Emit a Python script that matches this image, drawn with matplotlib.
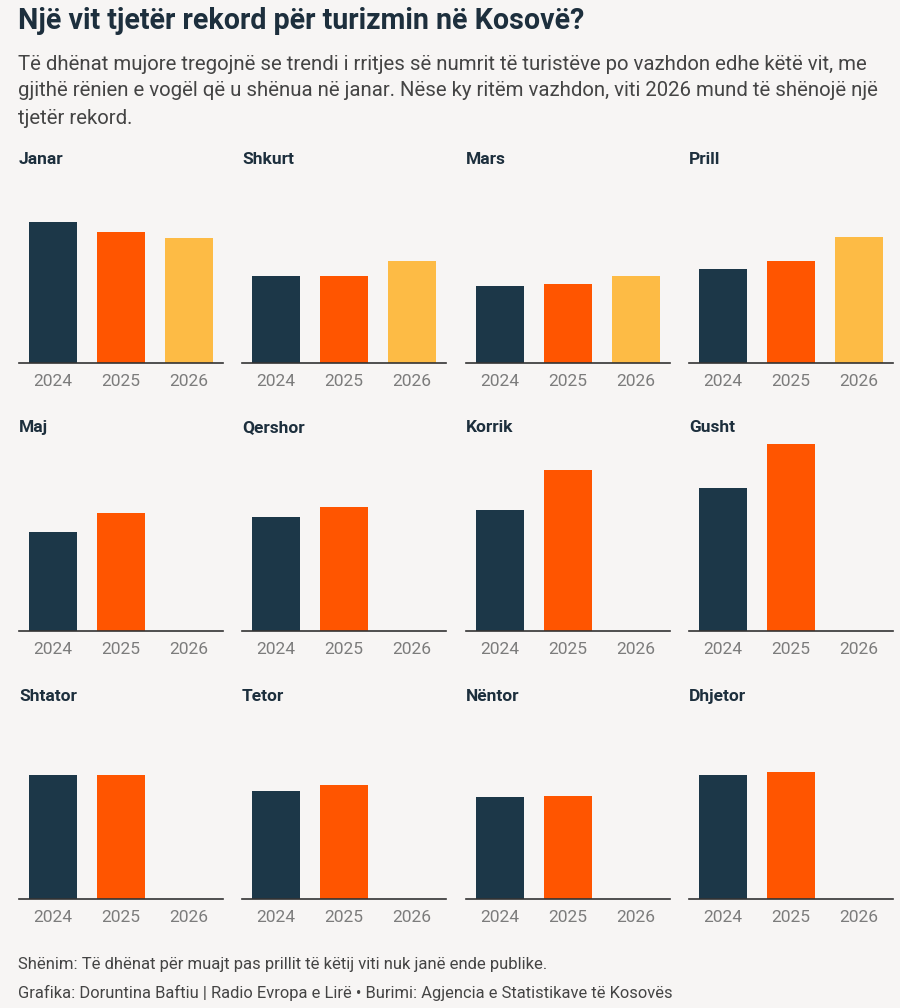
import matplotlib
matplotlib.use("Agg")
import matplotlib.pyplot as plt
from matplotlib import font_manager as fm

# ---- data (estimated, thousands of visitors) ----
months = ["Janar", "Shkurt", "Mars", "Prill", "Maj", "Qershor",
          "Korrik", "Gusht", "Shtator", "Tetor", "Nëntor", "Dhjetor"]
years = ["2024", "2025", "2026"]
v2024 = [140.4, 86.7, 76.4, 93.4, 98.7, 113.4, 120.4, 142.7, 124.3, 108.3, 101.7, 124.3]
v2025 = [131.0, 86.7, 78.7, 101.4, 117.4, 124.0, 160.4, 187.0, 124.3, 113.7, 103.0, 127.0]
v2026 = [124.4, 101.4, 86.7, 125.7, None, None, None, None, None, None, None, None]

title = "Një vit tjetër rekord për turizmin në Kosovë?"
subtitle = ["Të dhënat mujore tregojnë se trendi i rritjes së numrit të turistëve po vazhdon edhe këtë vit, me",
            "gjithë rënien e vogël që u shënua në janar. Nëse ky ritëm vazhdon, viti 2026 mund të shënojë një",
            "tjetër rekord."]
note = "Shënim: Të dhënat për muajt pas prillit të këtij viti nuk janë ende publike."
credit = "Grafika: Doruntina Baftiu | Radio Evropa e Lirë • Burimi: Agjencia e Statistikave të Kosovës"

colors = ["#1c3748", "#ff5500", "#fdbb45"]
BG = "#f7f5f4"
NAVY = "#1d2f3d"

names = {f.name for f in fm.fontManager.ttflist}
FONT = "Liberation Sans Narrow" if "Liberation Sans Narrow" in names else "Roboto"
plt.rcParams["font.family"] = [FONT, "DejaVu Sans"]

W, H = 900, 1008
fig = plt.figure(figsize=(W / 100, H / 100), dpi=100, facecolor=BG)

def fx(x):
    return x / W

def fy(y):
    return 1 - y / H

fig.text(fx(18), fy(21), title, fontsize=20.6, fontweight="bold", color=NAVY,
         va="center", ha="left")
for i, line in enumerate(subtitle):
    fig.text(fx(18), fy(64 + 27 * i), line, fontsize=14.7, color="#444444",
             va="center", ha="left")

lefts = [19, 242, 466, 689]
baselines = [362.7, 630.7, 899]
AW, AH = 204, 190
YMAX = 190

for m, name in enumerate(months):
    r, c = divmod(m, 4)
    l = lefts[c]
    b = baselines[r]
    ax = fig.add_axes([fx(l), fy(b), AW / W, AH / H])
    ax.set_facecolor(BG)
    vals = [v2024[m], v2025[m], v2026[m]]
    for k, v in enumerate(vals):
        if v is not None:
            ax.bar(k, v, width=0.7, color=colors[k], zorder=2)
    ax.set_xlim(-0.5, 2.5)
    ax.set_ylim(0, YMAX)
    ax.set_xticks(range(3))
    ax.set_xticklabels(years)
    ax.tick_params(axis="x", length=0, pad=8, labelsize=12.5, labelcolor="#7c7c7c")
    ax.set_yticks([])
    for s in ["top", "left", "right"]:
        ax.spines[s].set_visible(False)
    ax.spines["bottom"].set_color("#333333")
    ax.spines["bottom"].set_linewidth(1.2)
    ax.spines["bottom"].set_zorder(3)
    fig.text(fx(l), fy(b - 198.4), name, fontsize=12.5, fontweight="bold",
             color=NAVY, va="baseline", ha="left")

fig.text(fx(18), fy(965), note, fontsize=12.0, color="#444444", va="center", ha="left")
fig.text(fx(18), fy(993), credit, fontsize=11.9, color="#444444", va="center", ha="left")

fig.savefig("out.png", dpi=100, facecolor=BG)
